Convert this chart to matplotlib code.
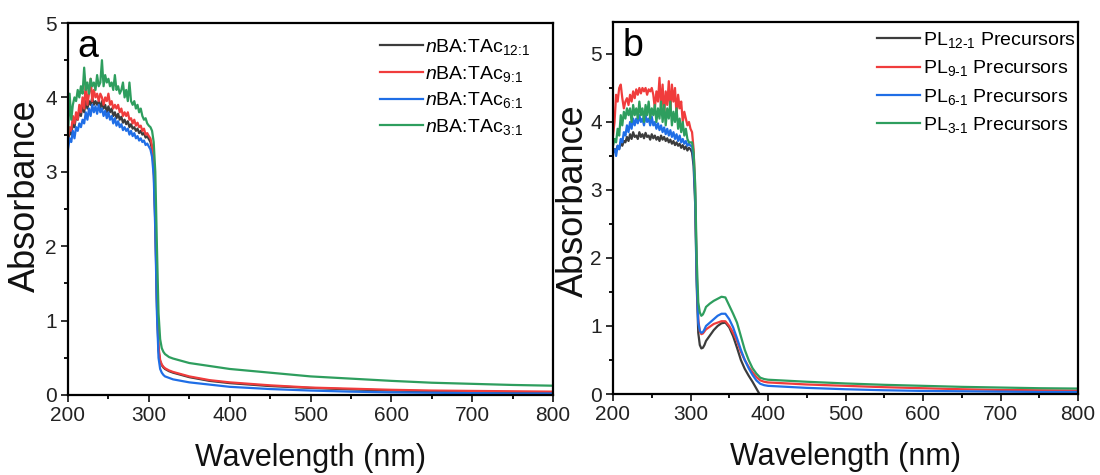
import matplotlib
matplotlib.use("Agg")
import matplotlib.pyplot as plt

plt.rcParams['font.family'] = ['Liberation Sans', 'DejaVu Sans']
plt.rcParams['mathtext.fontset'] = 'custom'
plt.rcParams['mathtext.rm'] = 'Liberation Sans'
plt.rcParams['mathtext.it'] = 'Liberation Sans:italic'
plt.rcParams['mathtext.bf'] = 'Liberation Sans:bold'

# ---------------- Panel a data ----------------
wl_a = [200, 202, 204, 206, 208, 210, 212, 214, 216, 218,
        220, 222, 224, 226, 228, 230, 232, 234, 236, 238,
        240, 242, 244, 246, 248, 250, 252, 254, 256, 258,
        260, 262, 264, 266, 268, 270, 272, 274, 276, 278,
        280, 282, 284, 286, 288, 290, 292, 294, 296, 298,
        300, 302, 304, 306, 308, 310, 312, 314, 316, 318,
        320, 325, 330, 340, 350, 375, 400, 450, 500, 550,
        600, 650, 700, 750, 800]

abs_a_12 = [3.40, 3.55, 3.50, 3.65, 3.60, 3.75, 3.70, 3.80, 3.75, 3.90,
            3.80, 3.95, 3.85, 3.95, 3.90, 4.00, 3.90, 3.95, 3.90, 3.95,
            3.85, 3.95, 3.85, 3.90, 3.80, 3.88, 3.80, 3.85, 3.75, 3.80,
            3.72, 3.78, 3.70, 3.74, 3.66, 3.70, 3.64, 3.68, 3.60, 3.64,
            3.58, 3.60, 3.55, 3.58, 3.52, 3.55, 3.50, 3.52, 3.46, 3.48,
            3.44, 3.40, 3.30, 3.05, 2.30, 1.20, 0.60, 0.45, 0.40, 0.37,
            0.35, 0.32, 0.30, 0.27, 0.24, 0.19, 0.16, 0.12, 0.095, 0.075,
            0.06, 0.05, 0.045, 0.04, 0.035]

abs_a_9 = [3.45, 3.60, 3.55, 3.75, 3.65, 3.80, 3.70, 3.90, 3.80, 4.00,
           3.85, 4.20, 3.90, 4.05, 4.25, 3.95, 4.10, 4.00, 4.05, 3.95,
           4.05, 4.00, 3.90, 4.00, 3.95, 4.05, 3.90, 3.95, 3.85, 3.90,
           3.85, 3.90, 3.80, 3.85, 3.75, 3.80, 3.75, 3.80, 3.70, 3.72,
           3.65, 3.70, 3.62, 3.66, 3.60, 3.62, 3.55, 3.58, 3.50, 3.52,
           3.48, 3.45, 3.35, 3.10, 2.40, 1.30, 0.65, 0.47, 0.41, 0.38,
           0.36, 0.33, 0.31, 0.28, 0.25, 0.20, 0.17, 0.13, 0.10, 0.085,
           0.07, 0.06, 0.055, 0.05, 0.045]

abs_a_6 = [3.30, 3.45, 3.40, 3.55, 3.45, 3.60, 3.55, 3.65, 3.60, 3.70,
           3.65, 3.80, 3.70, 3.85, 3.75, 3.90, 3.80, 3.88, 3.78, 3.90,
           3.80, 3.85, 3.75, 3.82, 3.72, 3.80, 3.70, 3.75, 3.65, 3.72,
           3.62, 3.68, 3.60, 3.64, 3.56, 3.60, 3.55, 3.58, 3.50, 3.55,
           3.48, 3.52, 3.45, 3.48, 3.42, 3.45, 3.40, 3.42, 3.36, 3.38,
           3.34, 3.30, 3.20, 2.95, 2.20, 1.10, 0.50, 0.35, 0.30, 0.27,
           0.25, 0.23, 0.21, 0.19, 0.17, 0.14, 0.11, 0.08, 0.06, 0.045,
           0.035, 0.03, 0.025, 0.02, 0.02]

abs_a_3 = [3.50, 4.05, 3.70, 3.90, 4.00, 3.95, 4.10, 4.00, 4.15, 4.05,
           4.40, 4.10, 4.20, 4.05, 4.25, 4.15, 4.20, 4.10, 4.30, 4.15,
           4.20, 4.50, 4.15, 4.30, 4.20, 4.25, 4.15, 4.20, 4.10, 4.30,
           4.10, 4.15, 4.05, 4.10, 4.20, 4.00, 4.10, 3.95, 4.20, 3.95,
           3.90, 3.95, 3.85, 3.90, 3.80, 3.85, 3.75, 3.70, 3.72, 3.65,
           3.62, 3.60, 3.55, 3.40, 3.00, 2.00, 1.10, 0.75, 0.63, 0.58,
           0.55, 0.51, 0.49, 0.46, 0.43, 0.39, 0.35, 0.30, 0.25, 0.22,
           0.19, 0.165, 0.15, 0.135, 0.125]

labels_a = [r'$\it{n}$BA:TAc$_{12\!:\!1}$', r'$\it{n}$BA:TAc$_{9\!:\!1}$',
            r'$\it{n}$BA:TAc$_{6\!:\!1}$', r'$\it{n}$BA:TAc$_{3\!:\!1}$']

# ---------------- Panel b data ----------------
wl_b = [200, 202, 204, 206, 208, 210, 212, 214, 216, 218,
        220, 222, 224, 226, 228, 230, 232, 234, 236, 238,
        240, 242, 244, 246, 248, 250, 252, 254, 256, 258,
        260, 262, 264, 266, 268, 270, 272, 274, 276, 278,
        280, 282, 284, 286, 288, 290, 292, 294, 296, 298,
        300, 302, 304, 306, 308, 310, 312, 314, 316, 318,
        320, 325, 330, 335, 340, 345, 350, 355, 360, 365,
        370, 375, 380, 385, 390, 395, 400, 450, 500, 550,
        600, 650, 700, 750, 800]

abs_b_12 = [3.55, 3.60, 3.58, 3.65, 3.60, 3.70, 3.65, 3.72, 3.70, 3.78,
            3.72, 3.82, 3.75, 3.85, 3.78, 3.80, 3.75, 3.85, 3.78, 3.82,
            3.76, 3.84, 3.78, 3.80, 3.74, 3.82, 3.76, 3.80, 3.74, 3.78,
            3.72, 3.80, 3.74, 3.78, 3.72, 3.76, 3.70, 3.74, 3.68, 3.72,
            3.66, 3.70, 3.65, 3.68, 3.62, 3.66, 3.60, 3.64, 3.58, 3.62,
            3.60, 3.55, 3.35, 2.80, 1.60, 0.90, 0.72, 0.67, 0.68, 0.72,
            0.78, 0.86, 0.94, 1.00, 1.04, 1.05, 0.98, 0.85, 0.68, 0.50,
            0.37, 0.27, 0.18, 0.08, -0.02, -0.10, -0.12, -0.12, -0.12, -0.12,
            -0.12, -0.12, -0.12, -0.12, -0.12]

abs_b_9 = [3.80, 4.00, 4.40, 4.30, 4.50, 4.55, 4.35, 4.20, 4.30, 4.35,
           4.25, 4.40, 4.30, 4.45, 4.35, 4.48, 4.40, 4.50, 4.42, 4.50,
           4.45, 4.50, 4.40, 4.48, 4.45, 4.50, 4.40, 4.20, 4.45, 4.30,
           4.65, 4.20, 4.55, 4.10, 4.45, 4.25, 4.60, 4.15, 4.55, 4.30,
           4.50, 4.10, 4.40, 4.20, 4.30, 4.00, 4.15, 4.05, 3.95, 4.00,
           3.90, 3.85, 3.60, 3.00, 1.80, 1.10, 0.92, 0.88, 0.89, 0.92,
           0.95, 0.99, 1.03, 1.05, 1.07, 1.07, 1.00, 0.90, 0.78, 0.62,
           0.50, 0.40, 0.32, 0.25, 0.20, 0.18, 0.17, 0.14, 0.12, 0.10,
           0.085, 0.07, 0.06, 0.055, 0.05]

abs_b_6 = [3.55, 3.60, 3.50, 3.65, 3.60, 3.75, 3.70, 3.85, 3.80, 3.95,
           3.85, 4.00, 3.90, 4.05, 3.95, 4.05, 3.98, 4.10, 4.00, 4.05,
           3.95, 4.10, 4.00, 4.05, 3.95, 4.08, 3.95, 4.00, 3.90, 3.98,
           3.88, 3.95, 3.85, 3.92, 3.82, 3.90, 3.80, 3.88, 3.78, 3.85,
           3.75, 3.82, 3.72, 3.80, 3.70, 3.75, 3.68, 3.72, 3.65, 3.68,
           3.65, 3.65, 3.45, 2.90, 1.70, 1.05, 0.93, 0.90, 0.91, 0.95,
           1.00, 1.05, 1.10, 1.15, 1.18, 1.18, 1.10, 0.98, 0.82, 0.65,
           0.50, 0.38, 0.28, 0.20, 0.15, 0.13, 0.12, 0.09, 0.07, 0.055,
           0.045, 0.04, 0.035, 0.03, 0.03]

abs_b_3 = [3.65, 3.75, 3.70, 3.90, 3.80, 4.10, 3.95, 4.15, 4.05, 4.20,
           4.10, 4.20, 4.00, 4.25, 4.10, 4.20, 4.05, 4.30, 4.10, 4.20,
           4.00, 4.25, 4.10, 4.30, 4.05, 4.20, 4.10, 4.25, 4.00, 4.20,
           4.05, 4.30, 4.00, 4.25, 3.95, 4.20, 4.05, 4.30, 3.95, 4.15,
           4.00, 4.20, 3.90, 4.05, 3.85, 4.00, 3.80, 3.90, 3.75, 3.70,
           3.70, 3.70, 3.55, 3.10, 2.00, 1.35, 1.20, 1.15, 1.17, 1.22,
           1.28, 1.33, 1.37, 1.40, 1.43, 1.42, 1.30, 1.18, 1.05, 0.85,
           0.65, 0.50, 0.38, 0.30, 0.24, 0.22, 0.21, 0.18, 0.155, 0.135,
           0.12, 0.105, 0.095, 0.085, 0.08]

labels_b = ['PL$_{12\u20101}$ Precursors', 'PL$_{9\u20101}$ Precursors',
            'PL$_{6\u20101}$ Precursors', 'PL$_{3\u20101}$ Precursors']

colors = ['#3c3c3c', '#f03c3c', '#1f6ee6', '#2e9e5e']
x_ticks = [200, 300, 400, 500, 600, 700, 800]

W, H = 1100, 475
fig = plt.figure(figsize=(W / 100, H / 100), dpi=100)

def rect(l, r, t, b):
    return [l / W, (H - b) / H, (r - l) / W, (b - t) / H]

ax_a = fig.add_axes(rect(68, 553, 23, 395))
ax_b = fig.add_axes(rect(613, 1078, 22, 394))

panels = [
    (ax_a, wl_a, [abs_a_12, abs_a_9, abs_a_6, abs_a_3], labels_a, (0, 5), 'a',
     (0.955, 0.962), 0.34, (-0.088, 0.535)),
    (ax_b, wl_b, [abs_b_12, abs_b_9, abs_b_6, abs_b_3], labels_b, (0, 5.47), 'b',
     (0.995, 0.978), 0.42, (-0.086, 0.52)),
]

for ax, wl, series, labels, ylim, tag, anchor, lspace, ylab_pos in panels:
    for ys, c, lab in zip(series, colors, labels):
        ax.plot(wl, ys, color=c, lw=1.6, label=lab)
    ax.set_xlim(200, 800)
    ax.set_ylim(*ylim)
    ax.set_xticks(x_ticks)
    ax.set_xticks([250, 350, 450, 550, 650, 750], minor=True)
    ax.set_yticks([0, 1, 2, 3, 4, 5])
    ax.set_yticks([0.5, 1.5, 2.5, 3.5, 4.5], minor=True)
    ax.tick_params(which='major', direction='out', length=5, width=1.3, labelsize=15, pad=3, colors='#222222')
    ax.tick_params(which='minor', direction='out', length=3, width=1.3)
    for s in ax.spines.values():
        s.set_linewidth(1.6)
    ax.set_xlabel('Wavelength (nm)', fontsize=22, labelpad=13, color='#111111')
    ax.set_ylabel('Absorbance', fontsize=26, color='#111111', va='center')
    ax.yaxis.set_label_coords(*ylab_pos)
    ax.text(0.02, 0.985, tag, transform=ax.transAxes, fontsize=27, ha='left', va='top')
    ax.legend(loc='upper right', bbox_to_anchor=anchor, frameon=False, fontsize=14,
              handlelength=2.2, handletextpad=0.15, labelspacing=lspace,
              borderaxespad=0.0, borderpad=0.0)

fig.savefig('out.png', dpi=100)
